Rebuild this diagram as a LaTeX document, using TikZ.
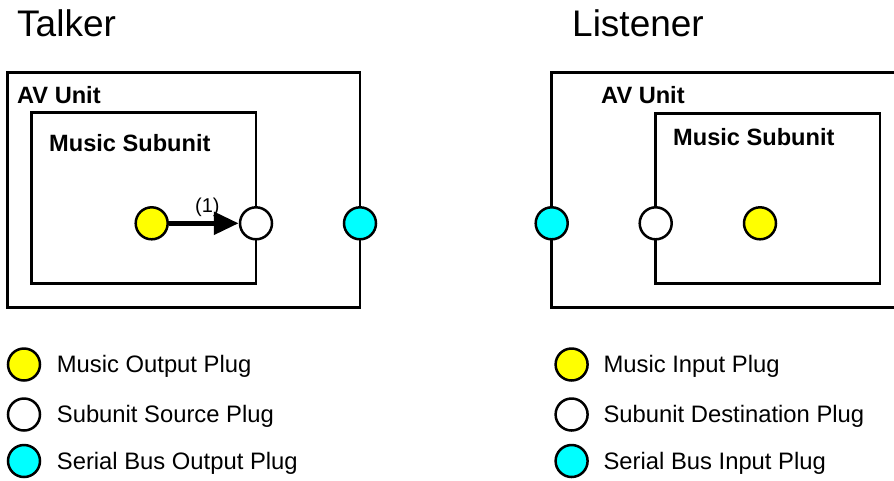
\documentclass[tikz,border=0pt]{standalone}
\usepackage{fontspec}
\setmainfont{Liberation Sans}
\usetikzlibrary{arrows.meta}
\definecolor{plugyellow}{RGB}{255,255,0}
\definecolor{plugcyan}{RGB}{0,255,255}
\tikzset{
  box/.style={draw=black, line width=2.5pt, fill=none, rectangle, inner sep=0pt},
  plug/.style={circle, draw=black, line width=2.5pt, minimum size=32pt, inner sep=0pt},
  lgplug/.style={plug},
  title/.style={anchor=base west, inner sep=0pt, font=\fontsize{37}{41}\selectfont},
  boxlabel/.style={anchor=base west, inner sep=0pt, font=\fontsize{23.6}{27}\selectfont\bfseries},
  legtext/.style={anchor=base west, inner sep=0pt, font=\fontsize{23.8}{27}\selectfont},
  flow/.style={line width=5.5pt, -{Triangle[length=25pt,width=22pt]}}
}
\begin{document}
\begin{tikzpicture}[x=1pt, y=-1pt]
\useasboundingbox (0,0) rectangle (894,480);
\clip (0,0) rectangle (894,480);
\fill[white] (0,0) rectangle (894,480);
% titles
\node[title] (ttalker) at (17,36.7) {Talker};
\node[title] (tlistener) at (572,36.7) {Listener};
% talker boxes
\node[box, minimum width=352.5pt, minimum height=235pt] (tav) at (183.75,190.2) {};
\node[box, minimum width=224.3pt, minimum height=171pt] (tsub) at (143.85,197.8) {};
\node[boxlabel] (tavlbl) at (17,103.3) {AV Unit};
\node[boxlabel] (tsublbl) at (49,151.7) {Music Subunit};
% listener boxes
\node[box, minimum width=370pt, minimum height=235pt] (lav) at (736.7,190.2) {};
\node[box, minimum width=224.3pt, minimum height=170pt] (lsub) at (767.85,198.3) {};
\node[boxlabel] (lavlbl) at (601,103.3) {AV Unit};
\node[boxlabel] (lsublbl) at (673,145.5) {Music Subunit};
% talker plugs
\node[plug, fill=plugyellow] (tmo) at (151.7,223.3) {};
\node[plug, fill=white] (tss) at (256,223.3) {};
\node[plug, fill=plugcyan] (tsb) at (360,223.3) {};
\draw[flow] (tmo) -- node[above=4pt, font=\fontsize{20}{23}\selectfont, inner sep=0pt, pos=0.55] (lbl1) {(1)} (tss);
% listener plugs
\node[plug, fill=plugcyan] (lsb) at (551.7,223.3) {};
\node[plug, fill=white] (lsd) at (655.7,223.3) {};
\node[plug, fill=plugyellow] (lmi) at (760,223.3) {};
% legend left
\node[lgplug, fill=plugyellow] (k1) at (24,364.5) {};
\node[lgplug, fill=white] (k2) at (24,414.5) {};
\node[lgplug, fill=plugcyan] (k3) at (24,461) {};
\node[legtext] (k1t) at (56.7,372.8) {Music Output Plug};
\node[legtext] (k2t) at (56.7,422.8) {Subunit Source Plug};
\node[legtext] (k3t) at (56.7,469.3) {Serial Bus Output Plug};
% legend right
\node[lgplug, fill=plugyellow] (m1) at (571.6,364.5) {};
\node[lgplug, fill=white] (m2) at (571.6,414.5) {};
\node[lgplug, fill=plugcyan] (m3) at (571.6,461) {};
\node[legtext] (m1t) at (603.4,372.8) {Music Input Plug};
\node[legtext] (m2t) at (603.4,422.8) {Subunit Destination Plug};
\node[legtext] (m3t) at (603.4,469.3) {Serial Bus Input Plug};
\end{tikzpicture}
\end{document}
